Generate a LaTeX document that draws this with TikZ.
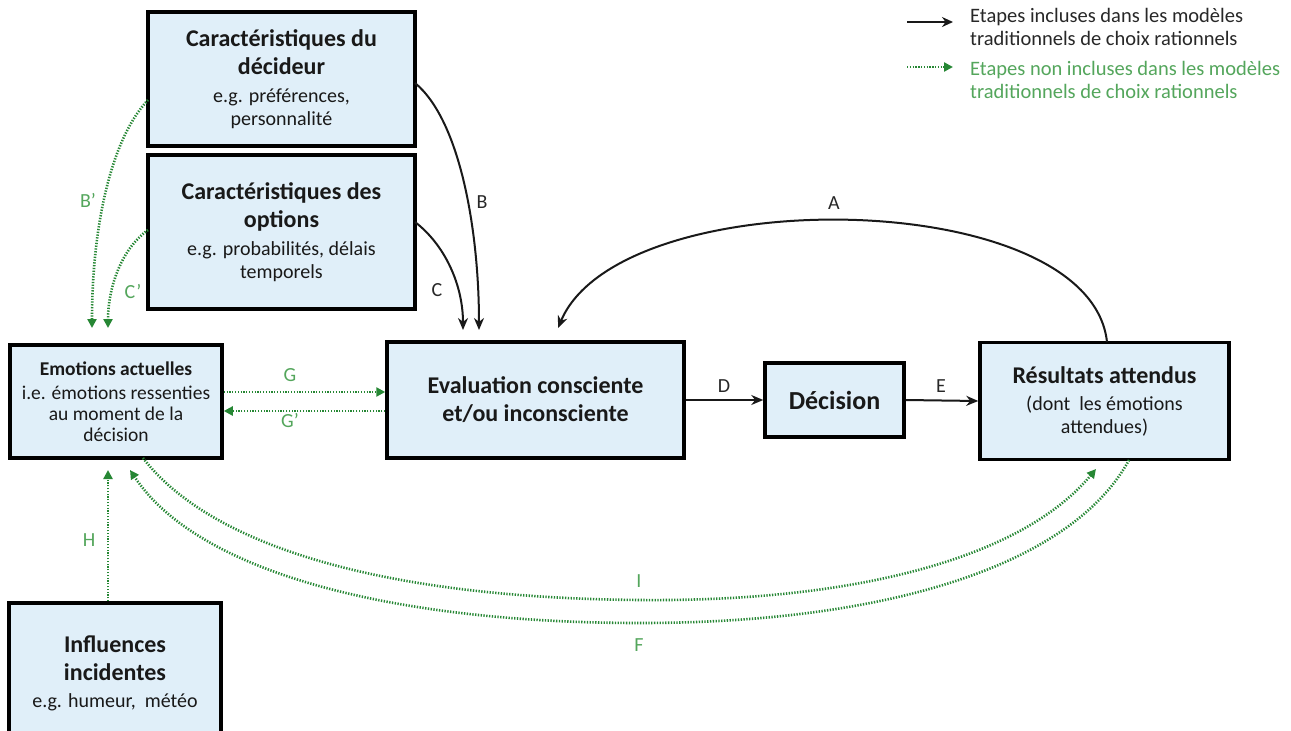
\documentclass[tikz,border=0pt]{standalone}
\usepackage{fontspec}
\setmainfont{Carlito}
\usetikzlibrary{arrows.meta}
\definecolor{boxblue}{RGB}{224,239,249}
\definecolor{dgreen}{RGB}{38,135,52}
\definecolor{lgreen}{RGB}{84,166,92}
\definecolor{dgray}{RGB}{40,40,40}
\newcommand\tfnt{\fontsize{24}{28}\selectfont\bfseries}
\newcommand\dfnt{\fontsize{26}{30}\selectfont\bfseries}
\newcommand\sfnt{\fontsize{20}{23}\selectfont}
\newcommand\etf{\fontsize{19.5}{21}\selectfont\bfseries}
\newcommand\esf{\fontsize{19.5}{21}\selectfont}
\newcommand\lfnt{\fontsize{20}{23}\selectfont}
\newcommand\legf{\fontsize{20.5}{23}\selectfont}
\begin{document}
\begin{tikzpicture}[x=1pt,y=-1pt,
  box/.style={draw=black, line width=3.5pt, fill=boxblue, align=center, inner sep=2pt, text=black!90, font=\sfnt},
  blk/.style={draw=black!90, line width=2pt, -{Stealth[length=12pt,width=10pt]}},
  grn/.style={draw=dgreen, line width=2.6pt, dash pattern=on 1.3pt off 1.5pt, -{Triangle[length=9pt,width=9pt]}},
  lbl/.style={font=\lfnt, text=dgray},
  glbl/.style={font=\lfnt, text=lgreen}]
\useasboundingbox (0,0) rectangle (1291,731);
\fill[white] (0,0) rectangle (1291,731);

% boxes
\node[box, minimum width=267pt, minimum height=134pt] (dec) at (281.5,79)
  {\tfnt Caractéristiques du\\[5pt]\tfnt décideur\\[5pt]e.g. préférences,\\personnalité};
\node[box, minimum width=267pt, minimum height=154pt] (opt) at (281.5,232)
  {\tfnt Caractéristiques des\\[5pt]\tfnt options\\[5pt]e.g. probabilités, délais\\temporels};
\node[box, minimum width=212pt, minimum height=113pt, font=\esf] (emo) at (116,401.5)
  {\etf Emotions actuelles\\[3pt]i.e. émotions ressenties\\au moment de la\\décision};
\node[box, minimum width=297pt, minimum height=116pt] (eva) at (535.5,400)
  {\tfnt Evaluation consciente\\[5pt]\tfnt et/ou inconsciente};
\node[box, minimum width=139pt, minimum height=74pt] (dcs) at (834.5,400)
  {\dfnt Décision};
\node[box, minimum width=249pt, minimum height=117pt] (res) at (1104.5,401)
  {\tfnt Résultats attendus\\[4pt](dont~ les émotions\\attendues)};
\node[box, minimum width=212pt, minimum height=140pt] (inf) at (115,673)
  {\tfnt Influences\\[5pt]\tfnt incidentes\\[4pt]e.g. humeur,~ météo};

% coordinates
\coordinate (bS) at (415,83);  \coordinate (bE) at (479,330);
\coordinate (cS) at (415,222); \coordinate (cE) at (463,330);
\coordinate (bpS) at (148,100); \coordinate (bpE) at (92,328);
\coordinate (cpS) at (148,230); \coordinate (cpE) at (108,328);
\coordinate (aS) at (1107,342); \coordinate (aE) at (558,328);
\coordinate (iS) at (143,458); \coordinate (iE) at (1096,469);
\coordinate (fS) at (1129,460); \coordinate (fE) at (130,470);
\coordinate (hE) at (108,470);

% black connectors
\draw[blk] (bS) .. controls (460,120) and (479,230) .. (bE);
\draw[blk] (cS) .. controls (445,245) and (463,285) .. (cE);
\draw[blk] (aS) .. controls (1090,185) and (620,180) .. (aE);
\draw[blk] (eva.east) -- (dcs.west);
\draw[blk] (dcs.east) -- (res.west);

% green connectors
\draw[grn] (bpS) .. controls (110,140) and (92,230) .. (bpE);
\draw[grn] (cpS) .. controls (120,250) and (108,290) .. (cpE);
\draw[grn] (emo.east |- 0,392) -- (eva.west |- 0,392);
\draw[grn] (eva.west |- 0,411) -- (emo.east |- 0,411);
\draw[grn] (inf.north -| hE) -- (hE);
\draw[grn] (iS) .. controls (210,545) and (380,598) .. (640,600)
  .. controls (850,602) and (1020,560) .. (iE);
\draw[grn] (fS) .. controls (1075,560) and (900,623) .. (640,623)
  .. controls (400,623) and (200,575) .. (fE);

% labels
\node[lbl] (lA) at (834,203) {A};
\node[lbl] (lB) at (482,202) {B};
\node[lbl] (lC) at (437,290) {C};
\node[lbl] (lD) at (724,386) {D};
\node[lbl] (lE) at (941,386) {E};
\node[glbl] (lBp) at (88,200) {B'};
\node[glbl] (lCp) at (133,292) {C'};
\node[glbl] (lG) at (290,375) {G};
\node[glbl] (lGp) at (290,421) {G'};
\node[glbl] (lH) at (89,540) {H};
\node[glbl] (lI) at (639,581) {I};
\node[glbl] (lF) at (639,645) {F};

% legend
\coordinate (k1S) at (907,22); \coordinate (k1E) at (953,22);
\coordinate (k2S) at (907,67); \coordinate (k2E) at (953,67);
\draw[draw=black!90, line width=2.6pt, -{Stealth[length=11pt,width=10pt]}] (k1S) -- (k1E);
\draw[grn, -{Triangle[length=9pt,width=9pt]}] (k2S) -- (k2E);
\node[anchor=west, align=left, font=\legf, text=dgray, inner sep=0pt] (t1) at (970,27)
  {Etapes incluses dans les modèles\\traditionnels de choix rationnels};
\node[anchor=west, align=left, font=\legf, text=lgreen, inner sep=0pt] (t2) at (970,79.5)
  {Etapes non incluses dans les modèles\\traditionnels de choix rationnels};
\end{tikzpicture}
\end{document}
